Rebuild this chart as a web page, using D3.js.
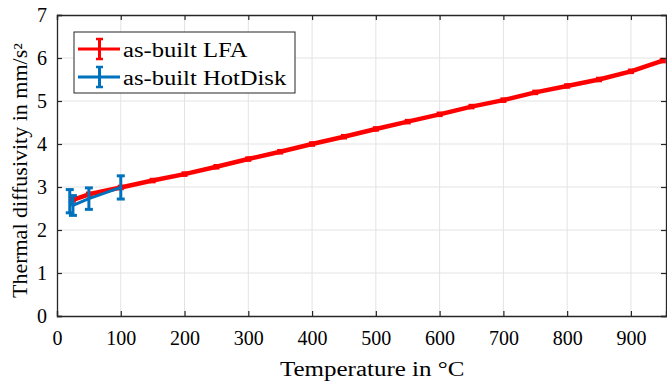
<!DOCTYPE html>
<html><head><meta charset="utf-8">
<script src="https://cdn.jsdelivr.net/npm/d3@7"></script>
<style>body{margin:0;background:#fff}svg{display:block}text{font-family:"Liberation Serif","Times New Roman",serif}</style>
</head><body><svg id="c" width="667" height="384"></svg>
<script>
const lfaT = [25,50,100,150,200,250,300,350,400,450,500,550,600,650,700,750,800,850,900,950];
const lfaV = [2.70,2.83,2.99,3.15,3.30,3.47,3.65,3.82,4.00,4.17,4.35,4.52,4.69,4.87,5.02,5.20,5.35,5.50,5.69,5.94];
const lfaErr = [0.03,0.03,0.03,0.03,0.03,0.03,0.03,0.03,0.03,0.03,0.03,0.03,0.03,0.03,0.03,0.03,0.03,0.03,0.03,0.03];
const hdT = [20,25,50,100];
const hdV = [2.67,2.57,2.73,2.99];
const hdErr = [0.27,0.23,0.25,0.27];
const xTicks = [0,100,200,300,400,500,600,700,800,900];
const yTicks = [0,1,2,3,4,5,6,7];
const seriesNames = ["as-built LFA","as-built HotDisk"];
const colors = ["#ff0000","#0072bd"];

const svg = d3.select("#c");
const L=57, R=666, T=15, B=316;
const x = d3.scaleLinear().domain([0,955]).range([L,R]);
const y = d3.scaleLinear().domain([0,7]).range([B,T]);

// grid
svg.append("g").selectAll("line").data(xTicks.slice(1)).join("line")
  .attr("x1",d=>x(d)).attr("x2",d=>x(d)).attr("y1",T).attr("y2",B)
  .attr("stroke","#e3e3e3").attr("stroke-width",1);
svg.append("g").selectAll("line").data(yTicks.slice(1,-1)).join("line")
  .attr("x1",L).attr("x2",R).attr("y1",d=>y(d)).attr("y2",d=>y(d))
  .attr("stroke","#e3e3e3").attr("stroke-width",1);

// data series
function drawSeries(T_, V_, E_, color, lw, cap, capw){
  const g = svg.append("g");
  const pts = T_.map((t,i)=>[t,V_[i],E_[i]]);
  g.append("path").datum(pts)
    .attr("d", d3.line().x(d=>x(d[0])).y(d=>y(d[1])))
    .attr("fill","none").attr("stroke",color).attr("stroke-width",lw).attr("stroke-linejoin","round");
  const eb = g.selectAll("g.e").data(pts).join("g");
  eb.append("line").attr("x1",d=>x(d[0])).attr("x2",d=>x(d[0]))
    .attr("y1",d=>y(d[1]-d[2])).attr("y2",d=>y(d[1]+d[2])).attr("stroke",color).attr("stroke-width",capw);
  eb.append("line").attr("x1",d=>x(d[0])-cap).attr("x2",d=>x(d[0])+cap)
    .attr("y1",d=>y(d[1]+d[2])).attr("y2",d=>y(d[1]+d[2])).attr("stroke",color).attr("stroke-width",capw);
  eb.append("line").attr("x1",d=>x(d[0])-cap).attr("x2",d=>x(d[0])+cap)
    .attr("y1",d=>y(d[1]-d[2])).attr("y2",d=>y(d[1]-d[2])).attr("stroke",color).attr("stroke-width",capw);
}
drawSeries(lfaT,lfaV,lfaErr,colors[0],4.5,3,3);
drawSeries(hdT,hdV,hdErr,colors[1],3,4,3);

// axes
const ax = svg.append("g");
const xb = ax.append("g").attr("transform",`translate(0,${B})`)
  .call(d3.axisBottom(x).tickValues(xTicks).tickSize(-5).tickPadding(15).tickFormat(d3.format("d")));
const xt = ax.append("g").attr("transform",`translate(0,${T})`)
  .call(d3.axisTop(x).tickValues(xTicks).tickSize(-5).tickFormat(""));
const yl = ax.append("g").attr("transform",`translate(${L},0)`)
  .call(d3.axisLeft(y).tickValues(yTicks).tickSize(-5).tickPadding(10).tickFormat(d3.format("d")));
const yr = ax.append("g").attr("transform",`translate(${R},0)`)
  .call(d3.axisRight(y).tickValues(yTicks).tickSize(-5).tickFormat(""));
[xb,xt,yl,yr].forEach(g=>{
  g.attr("font-family",null);
  g.select(".domain").attr("stroke","#262626").attr("stroke-width",1.3);
  g.selectAll(".tick line").attr("stroke","#262626").attr("stroke-width",1.2);
  g.selectAll("text").attr("font-size",20).attr("fill","#000");
});

// axis labels (horizontally widened like the reference's rendering)
svg.append("text").attr("transform","translate(280,376) scale(1.25,1)")
  .attr("font-size",20).text("Temperature in °C");
svg.append("text").attr("transform","translate(27,298) rotate(-90) scale(1.1,1)")
  .attr("font-size",20).text("Thermal diffusivity in mm/s²");

// legend
const lg = svg.append("g");
lg.append("rect").attr("x",74).attr("y",32).attr("width",221).attr("height",61)
  .attr("fill","#fff").attr("stroke","#262626").attr("stroke-width",1);
seriesNames.forEach((n,i)=>{
  const cy = 49 + i*28;
  const c = colors[i];
  lg.append("line").attr("x1",78).attr("x2",120).attr("y1",cy).attr("y2",cy).attr("stroke",c).attr("stroke-width",3);
  lg.append("line").attr("x1",99.5).attr("x2",99.5).attr("y1",cy-10).attr("y2",cy+10).attr("stroke",c).attr("stroke-width",3);
  lg.append("line").attr("x1",96).attr("x2",103).attr("y1",cy-10).attr("y2",cy-10).attr("stroke",c).attr("stroke-width",2.5);
  lg.append("line").attr("x1",96).attr("x2",103).attr("y1",cy+10).attr("y2",cy+10).attr("stroke",c).attr("stroke-width",2.5);
  lg.append("text").attr("transform",`translate(123,${cy+8}) scale(1.23,1)`).attr("font-size",20).text(n);
});
</script></body></html>
